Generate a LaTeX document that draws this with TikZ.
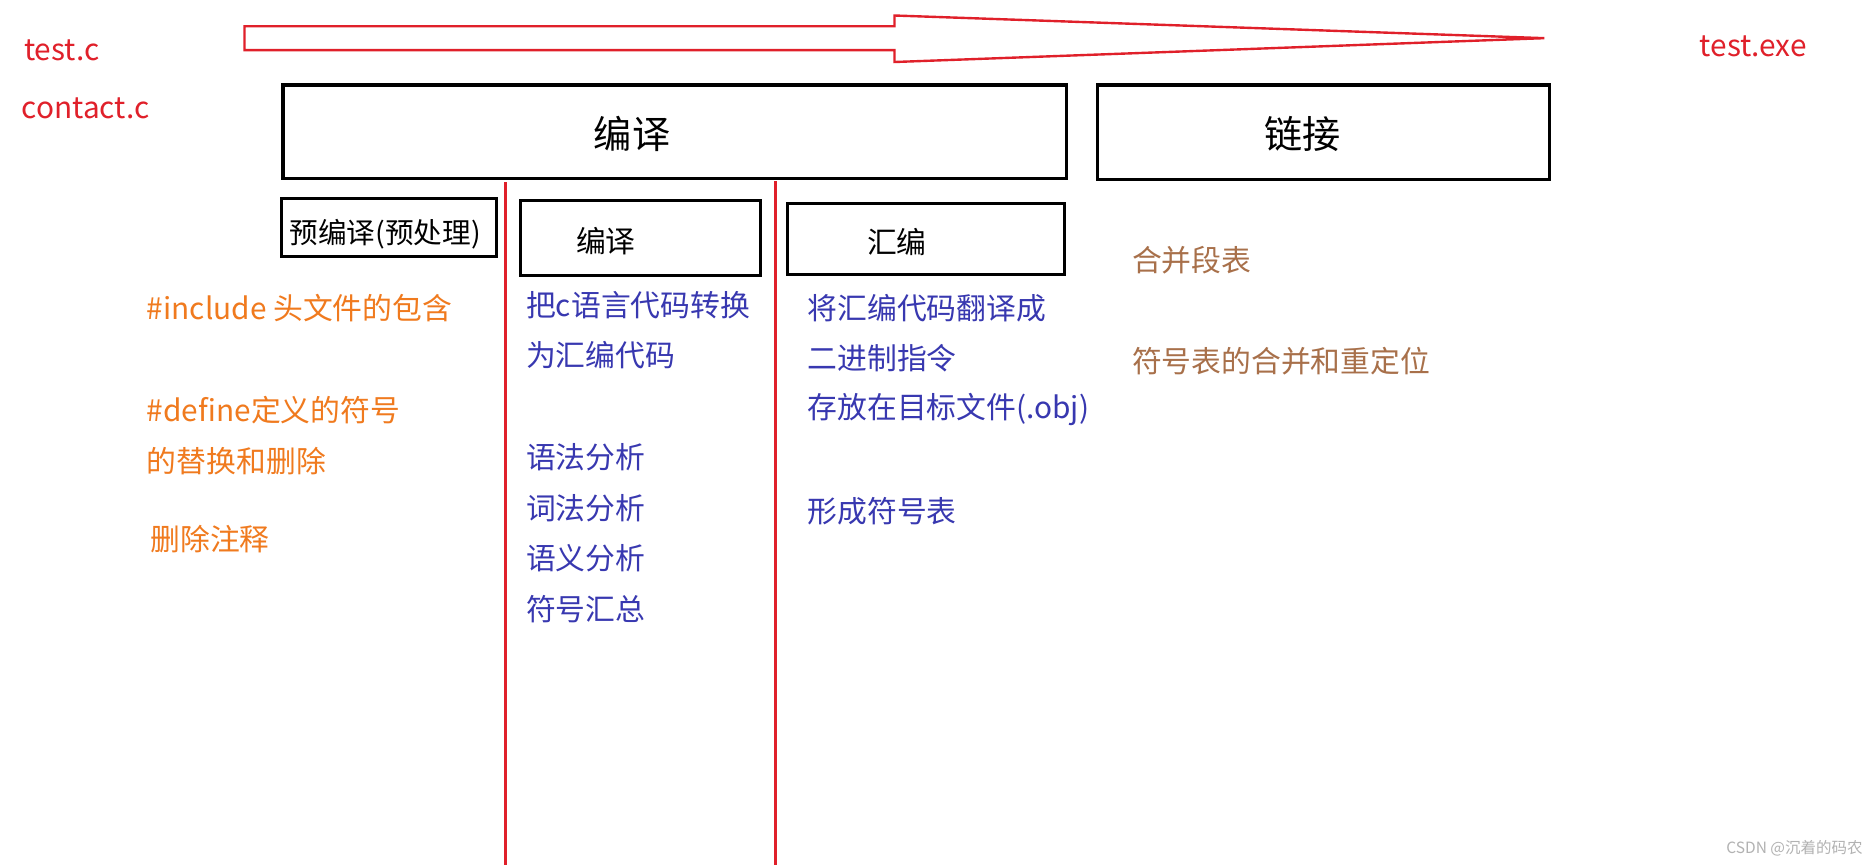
\documentclass[tikz,border=0pt]{standalone}
\usepackage{fontspec}
\setmainfont{Noto Sans CJK SC}
\definecolor{ared}{HTML}{E0202A}
\definecolor{aorg}{HTML}{F07A1E}
\definecolor{ablu}{HTML}{3838B0}
\definecolor{abrn}{HTML}{A8704A}
\begin{document}
\begin{tikzpicture}[x=1pt,y=-1pt,
  txt/.style={anchor=west,inner sep=0pt,font=\fontsize{25}{28}\selectfont},
  org/.style={txt,text=aorg},
  blu/.style={txt,text=ablu},
  brn/.style={txt,text=abrn},
  rd/.style={txt,text=ared},
  bx/.style={draw=black,line width=2.6pt,inner sep=0pt}]
\useasboundingbox[fill=white] (0,0) rectangle (1568,725);
% arrow
\draw[ared,line width=2pt,line join=miter] (205,22) -- (750,22) -- (750,13) -- (1295,32) -- (750,52) -- (750,42) -- (205,42) -- cycle;
\node[rd] (tc) at (20,42) {test.c};
\node[rd] (cc) at (18,91) {contact.c};
\node[rd] (te) at (1425,39) {test.exe};
% boxes
\node[bx,minimum width=657pt,minimum height=78pt,anchor=north west] (bianyi) at (236,70) {};
\node[font=\fontsize{32}{34}\selectfont] at (530,112) {编译};
\node[bx,minimum width=379pt,minimum height=79pt,anchor=north west] (lianjie) at (919,70) {};
\node[font=\fontsize{32}{34}\selectfont] at (1092,112) {链接};
\node[bx,minimum width=180pt,minimum height=49pt,anchor=north west] (b1) at (235,165) {};
\node[font=\fontsize{24}{26}\selectfont] at (323,196) {预编译(预处理)};
\node[bx,minimum width=201pt,minimum height=63pt,anchor=north west] (b2) at (435,167) {};
\node[font=\fontsize{25}{28}\selectfont] at (508,202) {编译};
\node[bx,minimum width=232pt,minimum height=60pt,anchor=north west] (b3) at (659,169) {};
\node[font=\fontsize{25}{28}\selectfont] at (752,203) {汇编};
% red lines
\coordinate (l1t) at (424,153); \coordinate (l1b) at (424,725);
\coordinate (l2t) at (650,152); \coordinate (l2b) at (650,725);
\draw[ared,line width=2.4pt] (l1t) -- (l1b);
\draw[ared,line width=2.4pt] (l2t) -- (l2b);
% orange
\node[org] (o1) at (123,258) {\#include 头文件的包含};
\node[org] (o2) at (123,344) {\#define定义的符号};
\node[org] (o3) at (123,387) {的替换和删除};
\node[org] (o4) at (126,452) {删除注释};
% blue col 1
\node[blu] (p1) at (441,256) {把c语言代码转换};
\node[blu] (p2) at (441,298) {为汇编代码};
\node[blu] (p3) at (441,383) {语法分析};
\node[blu] (p4) at (441,426) {词法分析};
\node[blu] (p5) at (441,468) {语义分析};
\node[blu] (p6) at (441,511) {符号汇总};
% blue col 2
\node[blu] (q1) at (677,258) {将汇编代码翻译成};
\node[blu] (q2) at (677,300) {二进制指令};
\node[blu] (q3) at (677,343) {存放在目标文件(.obj)};
\node[blu] (q4) at (677,429) {形成符号表};
% brown
\node[brn] (r1) at (949,218) {合并段表};
\node[brn] (r2) at (949,303) {符号表的合并和重定位};
\node[anchor=east,inner sep=0pt,text=gray!60,font=\fontsize{13}{14}\selectfont] (wm) at (1562,711) {CSDN @沉着的码农};
\end{tikzpicture}
\end{document}
